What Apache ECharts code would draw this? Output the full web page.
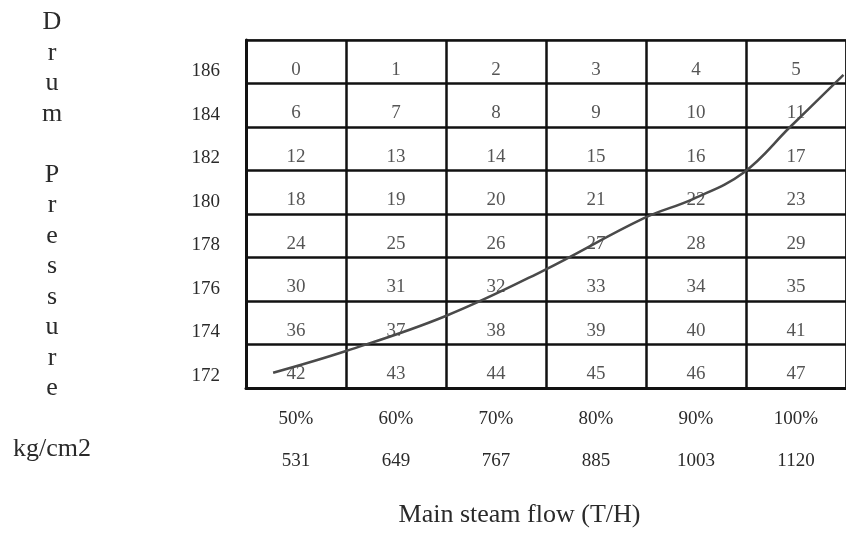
<!DOCTYPE html>
<html>
<head>
<meta charset="utf-8">
<script src="https://cdn.jsdelivr.net/npm/echarts@6/dist/echarts.min.js"></script>
<style>
  html, body { margin: 0; padding: 0; background: #fff; }
  #chart { width: 846px; height: 533px; }
</style>
</head>
<body>
<div id="chart"></div>
<script>
// column labels (load % and steam flow T/H)
const loadPct = ['50%', '60%', '70%', '80%', '90%', '100%'];
const steamFlow = [531, 649, 767, 885, 1003, 1120];
// drum pressure rows, bottom to top
const pressure = ['172', '174', '176', '178', '180', '182', '184', '186'];
// cell numbers, top row first
const cellNumbers = [
  [0, 1, 2, 3, 4, 5],
  [6, 7, 8, 9, 10, 11],
  [12, 13, 14, 15, 16, 17],
  [18, 19, 20, 21, 22, 23],
  [24, 25, 26, 27, 28, 29],
  [30, 31, 32, 33, 34, 35],
  [36, 37, 38, 39, 40, 41],
  [42, 43, 44, 45, 46, 47]
];
// curve (flow T/H, pressure kg/cm2)
const curveFlow = [504, 590, 707, 823, 941, 1000, 1059, 1114, 1177];
const curvePressure = [171.7, 172.7, 174.3, 176.4, 178.8, 179.7, 180.9, 183.0, 185.4];

const font = '"Liberation Serif", "Times New Roman", serif';
const textColor = '#2a2a2a';

let cells = [];
cellNumbers.forEach((row, r) => {
  row.forEach((n, c) => {
    cells.push([c, pressure.length - 1 - r, n]);
  });
});

const yTitle = ['D', 'r', 'u', 'm', '', 'P', 'r', 'e', 's', 's', 'u', 'r', 'e', '', 'kg/cm2'].join('\n');

const chart = echarts.init(document.getElementById('chart'));
chart.setOption({
  animation: false,
  backgroundColor: '#fff',
  grid: {
    left: 246, top: 40, width: 600, height: 348,
    show: true, borderColor: '#444', borderWidth: 1.5
  },
  graphic: [{
    type: 'text',
    style: {
      text: yTitle,
      x: 52, y: 7,
      align: 'center',
      fontFamily: font,
      fontSize: 26,
      lineHeight: 30.5,
      fill: textColor
    }
  }],
  xAxis: [
    {
      type: 'category',
      data: loadPct,
      axisLine: { lineStyle: { color: '#111', width: 3 } },
      axisTick: { show: false },
      splitLine: { show: true, lineStyle: { color: '#111', width: 2.5 } },
      axisLabel: {
        margin: 10,
        fontFamily: font, fontSize: 19, color: textColor, lineHeight: 42,
        formatter: (v, i) => v + '\n' + steamFlow[i]
      },
      name: 'Main steam flow (T/H)',
      nameLocation: 'middle',
      nameGap: 114,
      nameTextStyle: { fontFamily: font, fontSize: 26, color: textColor, padding: [0, 53, 0, 0] }
    },
    { type: 'value', min: 472, max: 1180, show: false }
  ],
  yAxis: [
    {
      type: 'category',
      data: pressure,
      axisLine: { lineStyle: { color: '#111', width: 3 } },
      axisTick: { show: false },
      splitLine: { show: true, lineStyle: { color: '#111', width: 2.5 } },
      axisLabel: {
        margin: 26,
        fontFamily: font, fontSize: 19, color: textColor,
        verticalAlign: 'top'
      }
    },
    { type: 'value', min: 171, max: 187, show: false }
  ],
  series: [
    {
      type: 'scatter',
      data: cells,
      symbolSize: 2,
      itemStyle: { color: 'rgba(0,0,0,0)' },
      silent: true,
      label: {
        show: true,
        position: 'inside',
        offset: [0, 8],
        fontFamily: font, fontSize: 19, color: textColor,
        formatter: p => p.value[2]
      },
      z: 4
    },
    {
      type: 'line',
      xAxisIndex: 1,
      yAxisIndex: 1,
      data: curveFlow.map((f, i) => [f, curvePressure[i]]),
      smooth: 0.4,
      showSymbol: false,
      lineStyle: { color: '#4a4a4a', width: 2.5 },
      z: 5
    }
  ]
});
</script>
</body>
</html>
